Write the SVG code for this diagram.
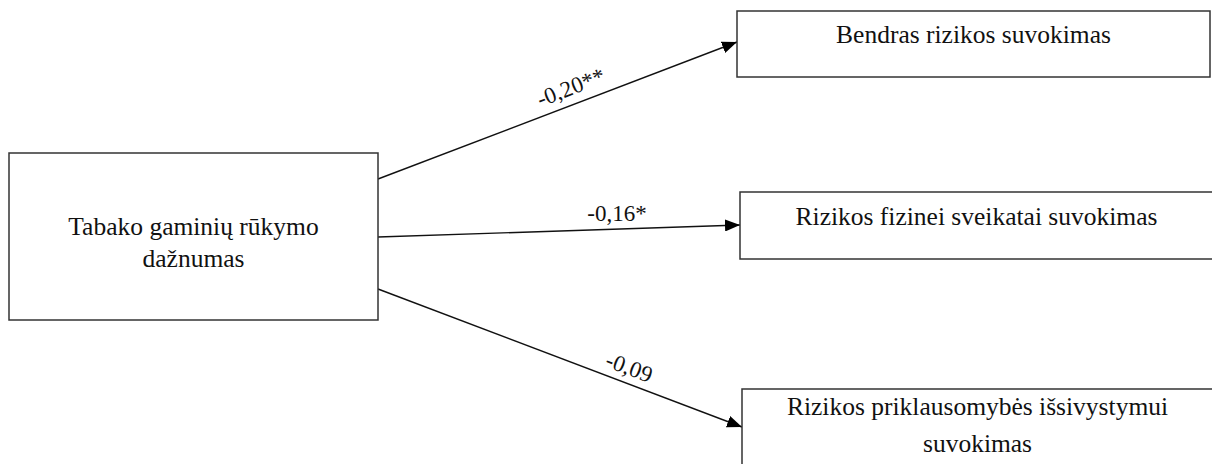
<svg xmlns="http://www.w3.org/2000/svg" width="1212" height="464" viewBox="0 0 1212 464">
<style>
.box{fill:#fff;stroke:#333;stroke-width:1.5}
.edge{stroke:#111;stroke-width:1.4;fill:none;marker-end:url(#arr)}
</style>
<defs>
<marker id="arr" markerUnits="userSpaceOnUse" markerWidth="16" markerHeight="12" refX="15" refY="6" orient="auto">
<path d="M0,0 L15,6 L0,12 Z" fill="#000"/>
</marker>
</defs>
<rect width="1212" height="464" fill="#fff"/>
<g id="connectors">
<line class="edge" x1="378" y1="179" x2="737" y2="42"/>
<line class="edge" x1="378" y1="237" x2="740" y2="225"/>
<line class="edge" x1="378" y1="289" x2="742" y2="427"/>
<g font-family="Liberation Serif" font-size="23" fill="#111" text-anchor="middle">
<text transform="translate(576,101) rotate(-20.9)" x="0" y="-7">-0,20**</text>
<text x="617" y="221">-0,16*</text>
<text transform="translate(624,381) rotate(20.8)" x="0" y="-7">-0,09</text>
</g>
</g>
<g font-family="Liberation Serif" font-size="25.5" fill="#111" text-anchor="middle">
<g id="node-source">
<rect class="box" x="9" y="153" width="369" height="167"/>
<text x="193.5" y="235">Tabako gaminių rūkymo</text>
<text x="193.5" y="267">dažnumas</text>
</g>
<g id="node-general">
<rect class="box" x="737" y="11" width="473" height="66"/>
<text x="973.5" y="43">Bendras rizikos suvokimas</text>
</g>
<g id="node-physical">
<rect class="box" x="740" y="192" width="480" height="67"/>
<text x="976.5" y="225">Rizikos fizinei sveikatai suvokimas</text>
</g>
<g id="node-dependence">
<rect class="box" x="742" y="389" width="480" height="90"/>
<text x="977.5" y="415">Rizikos priklausomybės išsivystymui</text>
<text x="977.5" y="452">suvokimas</text>
</g>
</g>
</svg>
